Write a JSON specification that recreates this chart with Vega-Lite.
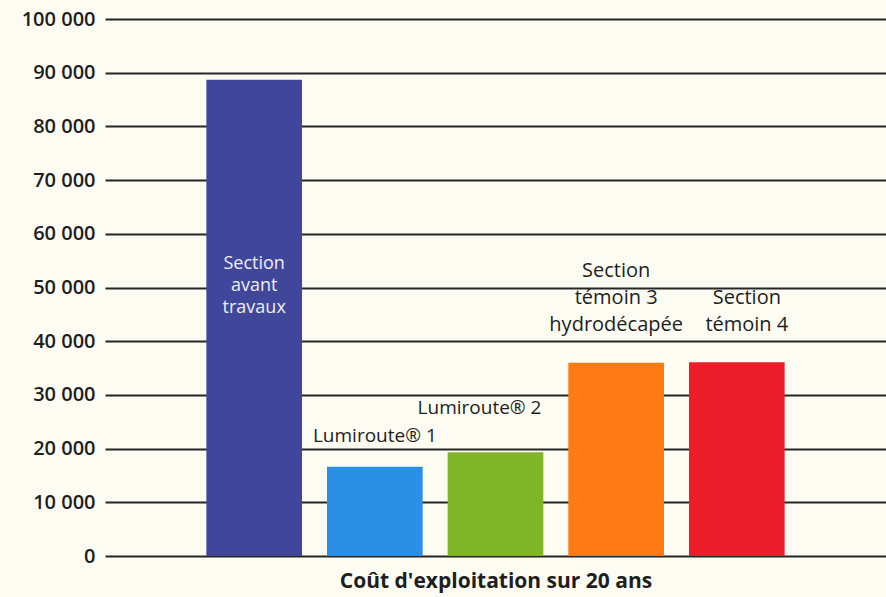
{
  "$schema": "https://vega.github.io/schema/vega-lite/v6.json",
  "width": 781,
  "height": 537,
  "autosize": {"type": "none"},
  "padding": {"left": 105, "top": 19, "right": 0, "bottom": 41},
  "background": "#fcfcf3",
  "config": {
    "view": {"stroke": null},
    "font": "Open Sans"
  },
  "data": {
    "values": [
      {"section": "Section avant travaux", "cout": 88700, "label": ["Section", "avant", "travaux"]},
      {"section": "Lumiroute® 1", "cout": 16600, "label": ["Lumiroute® 1"]},
      {"section": "Lumiroute® 2", "cout": 19300, "label": ["Lumiroute® 2"]},
      {"section": "Section témoin 3 hydrodécapée", "cout": 36000, "label": ["Section", "témoin 3", "hydrodécapée"]},
      {"section": "Section témoin 4", "cout": 36100, "label": ["Section", "témoin 4"]}
    ]
  },
  "encoding": {
    "x": {
      "field": "section",
      "type": "nominal",
      "sort": null,
      "scale": {"paddingInner": 0.207, "paddingOuter": 0.84},
      "axis": {
        "title": "Coût d'exploitation sur 20 ans",
        "labels": false,
        "ticks": false,
        "domain": false,
        "titleFont": "Open Sans",
        "titleFontSize": 21,
        "titleFontWeight": "bold",
        "titleColor": "#1e1e1e",
        "titlePadding": 14
      }
    },
    "y": {
      "field": "cout",
      "type": "quantitative",
      "scale": {"domain": [0, 100000], "nice": false},
      "axis": {
        "title": null,
        "values": [0, 10000, 20000, 30000, 40000, 50000, 60000, 70000, 80000, 90000, 100000],
        "labelExpr": "replace(format(datum.value, ','), ',', ' ')",
        "domain": false,
        "ticks": false,
        "grid": true,
        "gridColor": "#262626",
        "gridWidth": 2,
        "gridOpacity": 1,
        "labelFont": "Open Sans",
        "labelFontSize": 20,
        "labelFontWeight": 600,
        "labelColor": "#1e1e1e",
        "labelPadding": 10
      }
    }
  },
  "layer": [
    {
      "mark": {"type": "bar"},
      "encoding": {
        "color": {
          "field": "section",
          "type": "nominal",
          "sort": null,
          "legend": null,
          "scale": {"range": ["#40479a", "#2b8fe6", "#80b52a", "#ff7a14", "#ec1d2a"]}
        }
      }
    },
    {
      "transform": [{"filter": "datum.section == 'Section avant travaux'"}],
      "mark": {"type": "text", "color": "#eeeef8", "fontSize": 18, "baseline": "top", "dy": 175, "lineHeight": 22, "font": "Open Sans"},
      "encoding": {"text": {"field": "label"}}
    },
    {
      "transform": [{"filter": "datum.section == 'Lumiroute® 1'"}],
      "mark": {"type": "text", "color": "#1e1e1e", "fontSize": 19, "baseline": "bottom", "dy": -21, "font": "Open Sans"},
      "encoding": {"text": {"field": "label"}}
    },
    {
      "transform": [{"filter": "datum.section == 'Lumiroute® 2'"}],
      "mark": {"type": "text", "color": "#1e1e1e", "fontSize": 19, "baseline": "bottom", "dy": -34, "dx": -16, "font": "Open Sans"},
      "encoding": {"text": {"field": "label"}}
    },
    {
      "transform": [{"filter": "datum.section == 'Section témoin 3 hydrodécapée'"}],
      "mark": {"type": "text", "color": "#1e1e1e", "fontSize": 20, "baseline": "bottom", "dy": -82, "lineHeight": 27, "font": "Open Sans"},
      "encoding": {"text": {"field": "label"}}
    },
    {
      "transform": [{"filter": "datum.section == 'Section témoin 4'"}],
      "mark": {"type": "text", "color": "#1e1e1e", "fontSize": 20, "baseline": "bottom", "dy": -54, "dx": 10, "lineHeight": 27, "font": "Open Sans"},
      "encoding": {"text": {"field": "label"}}
    }
  ]
}
